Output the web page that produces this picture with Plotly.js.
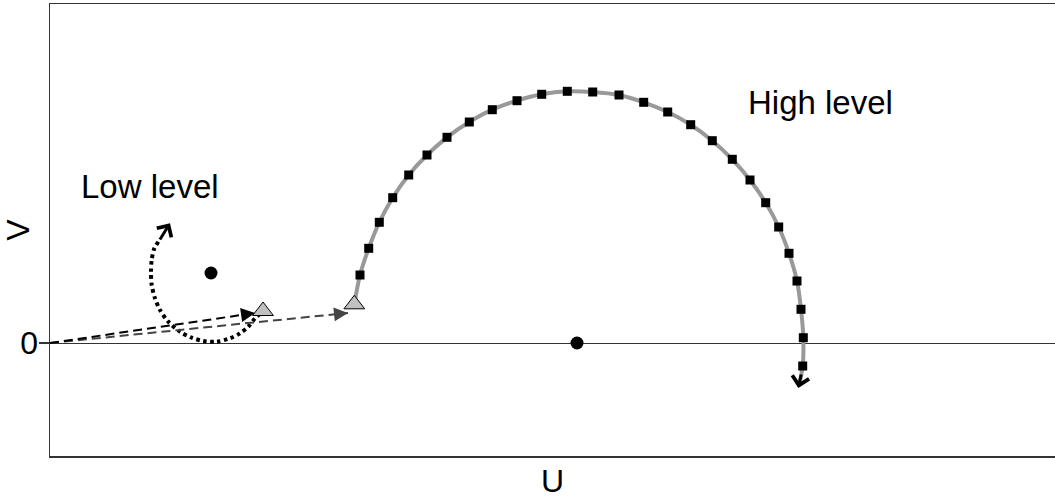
<!DOCTYPE html>
<html>
<head>
<meta charset="utf-8">
<script src="https://cdn.plot.ly/plotly-3.0.1.min.js"></script>
<style>html,body{margin:0;padding:0;background:#fff;overflow:hidden}</style>
</head>
<body>
<div id="chart" style="width:1055px;height:499px"></div>
<script>
// ---- data ----
var highU = [3.10, 3.187, 3.293, 3.427, 3.587, 3.77, 3.97, 4.193, 4.423, 4.67, 4.917, 5.173, 5.427, 5.69, 5.937, 6.177, 6.407, 6.623, 6.823, 7.00, 7.157, 7.287, 7.39, 7.47, 7.51, 7.533, 7.527];
var highV = [0.68, 0.947, 1.207, 1.453, 1.68, 1.88, 2.057, 2.21, 2.333, 2.423, 2.487, 2.517, 2.51, 2.48, 2.407, 2.31, 2.183, 2.023, 1.837, 1.63, 1.403, 1.16, 0.897, 0.62, 0.337, 0.053, -0.23];
var highStart = [3.043, 0.387];
var highEnd = [7.49, -0.43];
var highTip = [7.483, -0.45];
var highTail = [7.515, -0.30];

var lowU = [2.10, 2.05, 1.983, 1.90, 1.80, 1.667, 1.533, 1.417, 1.30, 1.183, 1.10, 1.05, 1.017, 1.01, 1.017, 1.04, 1.083];
var lowV = [0.29, 0.247, 0.163, 0.097, 0.047, 0.013, 0.02, 0.053, 0.113, 0.213, 0.33, 0.447, 0.58, 0.713, 0.83, 0.937, 1.013];
var lowTip = [1.20, 1.197];
var lowTail = [1.09, 1.02];

var triU = [2.13, 3.043];
var triV = [0.32, 0.387];
var centerU = [1.61, 5.27];
var centerV = [0.70, 0.0];

var origin = [0, 0];
var blackArrowEnd = [2.05, 0.30];
var grayArrowEnd = [2.98, 0.30];

var labels = [
  {text: 'Low level', u: 1.0, v: 1.57},
  {text: 'High level', u: 7.70, v: 2.41}
];
var yTickVals = [0];
var yTickText = ['0'];
var xTitle = 'U', yTitle = 'V';

// ---- traces ----
var FONT = 'Liberation Sans, Arial, Helvetica, sans-serif';
// point a small fraction f of the way back from q towards p
function back(p, q, f) { return [q[0] + (p[0] - q[0]) * f, q[1] + (p[1] - q[1]) * f]; }

var traces = [
  { x: [highStart[0]].concat(highU, [highEnd[0]]), y: [highStart[1]].concat(highV, [highEnd[1]]),
    mode: 'lines', line: {color: '#999999', width: 4, shape: 'spline', smoothing: 0.8}, hoverinfo: 'skip' },
  { x: highU, y: highV, mode: 'markers', marker: {symbol: 'square', size: 9, color: '#000'}, hoverinfo: 'skip' },
  { x: lowU, y: lowV, mode: 'lines', line: {color: '#000', width: 4, dash: '3.5px,3.5px', shape: 'spline', smoothing: 0.8}, hoverinfo: 'skip' },
  { x: [origin[0], grayArrowEnd[0]], y: [origin[1], grayArrowEnd[1]], mode: 'lines',
    line: {color: '#444444', width: 2, dash: '9px,5px'}, hoverinfo: 'skip' },
  { x: [origin[0], blackArrowEnd[0]], y: [origin[1], blackArrowEnd[1]], mode: 'lines',
    line: {color: '#000', width: 2, dash: '9px,5px'}, hoverinfo: 'skip' },
  { x: centerU, y: centerV, mode: 'markers', marker: {symbol: 'circle', size: 13, color: '#000'}, hoverinfo: 'skip' },
  { x: triU, y: triV, mode: 'markers', marker: {symbol: 'triangle-up', size: 18, color: '#c0c0c0', line: {color: '#000', width: 1}}, hoverinfo: 'skip' }
];

var bA = back(origin, blackArrowEnd, 0.04);
var gA = back(origin, grayArrowEnd, 0.03);
var annotations = [
  {x: blackArrowEnd[0], y: blackArrowEnd[1], ax: bA[0], ay: bA[1], axref: 'x', ayref: 'y', xref: 'x', yref: 'y',
   showarrow: true, arrowhead: 2, arrowsize: 1.4, arrowwidth: 2, arrowcolor: '#000', text: ''},
  {x: grayArrowEnd[0], y: grayArrowEnd[1], ax: gA[0], ay: gA[1], axref: 'x', ayref: 'y', xref: 'x', yref: 'y',
   showarrow: true, arrowhead: 2, arrowsize: 1.4, arrowwidth: 2, arrowcolor: '#444444', text: ''},
  {x: highTip[0], y: highTip[1], ax: highTail[0], ay: highTail[1], axref: 'x', ayref: 'y', xref: 'x', yref: 'y',
   showarrow: true, arrowhead: 4, arrowsize: 1.1, arrowwidth: 3, arrowcolor: '#000', text: ''},
  {x: lowTip[0], y: lowTip[1], ax: lowTail[0], ay: lowTail[1], axref: 'x', ayref: 'y', xref: 'x', yref: 'y',
   showarrow: true, arrowhead: 4, arrowsize: 1.1, arrowwidth: 3, arrowcolor: '#000', text: ''}
];
labels.forEach(function (l) {
  annotations.push({x: l.u, y: l.v, xref: 'x', yref: 'y', text: l.text, showarrow: false,
    font: {family: FONT, size: 33, color: '#000'}, xanchor: 'center', yanchor: 'middle'});
});

var layout = {
  width: 1055, height: 499,
  margin: {l: 50, r: 0, t: 4, b: 43, pad: 0},
  paper_bgcolor: '#fff', plot_bgcolor: '#fff',
  showlegend: false,
  font: {family: FONT, size: 32, color: '#000'},
  xaxis: {range: [0, 10.05], showgrid: false, zeroline: false, showticklabels: false, ticks: '',
    showline: true, mirror: true, linecolor: '#333', linewidth: 1.5,
    title: {text: xTitle, font: {family: FONT, size: 32, color: '#000'}, standoff: 17}, fixedrange: true},
  yaxis: {range: [-1.13, 3.39], showgrid: false, zeroline: true, zerolinecolor: '#333', zerolinewidth: 1,
    tickvals: yTickVals, ticktext: yTickText, ticks: 'outside', ticklen: 10, tickwidth: 1.5, tickcolor: '#333',
    ticklabelstandoff: -6,
    tickfont: {family: FONT, size: 32, color: '#000'},
    showline: true, mirror: false, linecolor: '#333', linewidth: 1.5,
    title: {text: yTitle, font: {family: FONT, size: 32, color: '#000'}, standoff: 4}, fixedrange: true},
  annotations: annotations
};

Plotly.newPlot('chart', traces, layout, {staticPlot: true, displayModeBar: false});
</script>
</body>
</html>
